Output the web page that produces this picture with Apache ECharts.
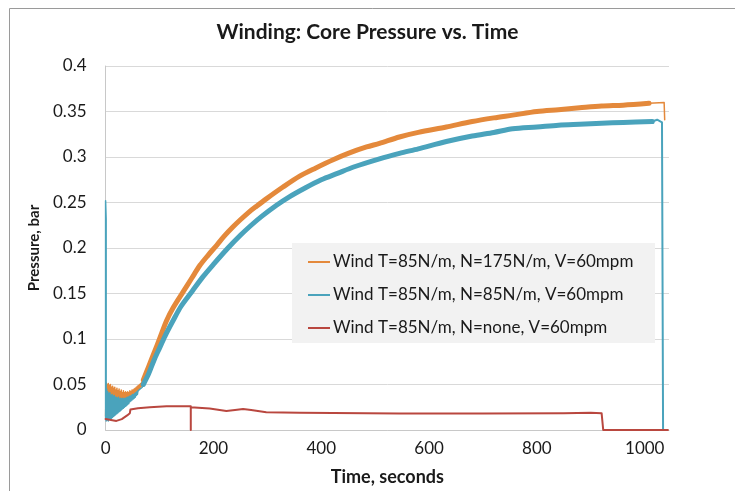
<!DOCTYPE html>
<html>
<head>
<meta charset="utf-8">
<script src="https://cdn.jsdelivr.net/npm/echarts@6/dist/echarts.min.js"></script>
<style>
html,body{margin:0;padding:0;background:#fff;}
#c{width:735px;height:491px;}
</style>
</head>
<body>
<div id="c"></div>
<script>
// ---- data (time in seconds, pressure in bar) ----
var seriesNames = [
  'Wind T=85N/m, N=175N/m, V=60mpm',
  'Wind T=85N/m, N=85N/m, V=60mpm',
  'Wind T=85N/m, N=none, V=60mpm'
];
var xTicks = [0, 200, 400, 600, 800, 1000];
var yTicks = [0, 0.05, 0.1, 0.15, 0.2, 0.25, 0.3, 0.35, 0.4];

// N=175: noisy start-up band (0-70 s)
var orangeHeadT = [0,1,2,3,4,5,6,7,8,9,10,11,12,13,14,15,16,17,18,19,20,21,22,23,24,25,26,27,28,29,30,31,32,33,34,35,36,37,38,39,40,41,42,43,44,45,46,47,48,49,50,51,52,53,54,55,56,57,58,59,60,61,62,63,64,65,66,67,68,69,70];
var orangeHeadP = [0.015,0.052,0.014,0.05,0.015,0.051,0.014,0.049,0.015,0.05,0.015,0.047,0.016,0.048,0.017,0.046,0.017,0.047,0.018,0.044,0.019,0.046,0.02,0.043,0.021,0.045,0.022,0.042,0.023,0.044,0.024,0.041,0.025,0.043,0.026,0.041,0.027,0.042,0.028,0.041,0.029,0.042,0.03,0.041,0.031,0.043,0.033,0.042,0.034,0.044,0.035,0.044,0.037,0.045,0.038,0.046,0.04,0.047,0.041,0.048,0.043,0.049,0.045,0.05,0.046,0.051,0.048,0.052,0.05,0.053,0.055];
// N=175: main rise
var orangeT = [70,80,90,100,113,125,144,160,175,190,206,220,236,250,267,280,298,329,360,390,422,450,484,508,545,580,632,680,720,755,800,840,879,920,960,1008];
var orangeP = [0.055,0.07,0.085,0.1,0.12,0.134,0.152,0.167,0.181,0.192,0.203,0.213,0.223,0.231,0.24,0.246,0.254,0.267,0.279,0.288,0.297,0.304,0.311,0.315,0.322,0.327,0.333,0.339,0.343,0.346,0.35,0.352,0.354,0.356,0.357,0.359];
// N=175: end of run
var orangeTailT = [1008,1010,1036,1037];
var orangeTailP = [0.359,0.36,0.36,0.341];

// N=85: start spike and noisy band (0-70 s)
var blueHeadT = [0,0,1,1,2,3,4,5,6,7,8,9,10,11,12,13,14,15,16,17,18,19,20,21,22,23,24,25,26,27,28,29,30,31,32,33,34,35,36,37,38,39,40,41,42,43,44,45,46,47,48,49,50,51,52,53,54,55,56,57,58,59,60,61,62,63,64,65,66,67,68,69,70];
var blueHeadP = [0.012,0.252,0.232,0.01,0.045,0.011,0.042,0.01,0.04,0.012,0.041,0.012,0.038,0.013,0.039,0.014,0.037,0.015,0.038,0.016,0.036,0.017,0.036,0.018,0.035,0.019,0.036,0.02,0.034,0.021,0.035,0.022,0.034,0.023,0.035,0.024,0.034,0.025,0.035,0.026,0.035,0.027,0.036,0.028,0.036,0.029,0.037,0.031,0.037,0.032,0.038,0.033,0.039,0.034,0.039,0.035,0.04,0.036,0.041,0.038,0.042,0.039,0.043,0.041,0.044,0.042,0.045,0.044,0.046,0.046,0.047,0.048,0.05];
// N=85: main rise
var blueT = [70,80,90,100,110,125,140,160,180,200,227,250,270,290,317,340,370,400,430,460,508,545,580,632,680,720,755,800,840,879,920,960,1014];
var blueP = [0.05,0.062,0.077,0.09,0.103,0.12,0.136,0.152,0.168,0.182,0.2,0.214,0.225,0.235,0.247,0.256,0.266,0.275,0.282,0.289,0.298,0.304,0.309,0.317,0.323,0.327,0.331,0.333,0.335,0.336,0.337,0.338,0.339];
// N=85: end of run
var blueTailT = [1014,1023,1032,1034];
var blueTailP = [0.339,0.341,0.338,0];

// N=none
var redT = [0,10,20,30,40,45,46,60,82,113,140,158,158,158,193,224,240,255,270,298,360,545,700,850,900,920,923,923,1043];
var redP = [0.012,0.011,0.01,0.012,0.016,0.0185,0.0225,0.024,0.025,0.026,0.026,0.026,0,0.025,0.0235,0.021,0.022,0.023,0.022,0.0195,0.019,0.018,0.018,0.0185,0.019,0.0185,0.018,0,0];

function pairs(t, p) { var out = []; for (var i = 0; i < t.length; i++) out.push([t[i], p[i]]); return out; }

var FONT = 'Lato';
var ORANGE = '#E4893B', BLUE = '#4AA3BC', RED = '#B9473F';
function line(name, t, p, color, width, z, smooth) {
  return {name: name, type: 'line', data: pairs(t, p), showSymbol: false, symbol: 'none', silent: true,
    smooth: smooth || false,
    lineStyle: {width: width, color: color, join: 'round', cap: 'round'}, itemStyle: {color: color}, z: z};
}

var chart = echarts.init(document.getElementById('c'), null, {renderer: 'canvas'});
chart.setOption({
  animation: false,
  backgroundColor: '#ffffff',
  title: {
    text: 'Winding: Core Pressure vs. Time',
    left: 'center', top: 17,
    textStyle: {fontFamily: FONT, fontSize: 21, fontWeight: 'bold', color: '#1a1a1a'}
  },
  graphic: [
    {type: 'rect', z: -10, shape: {x: 9.5, y: 8.5, width: 800, height: 600}, style: {fill: 'none', stroke: '#9a9a9a', lineWidth: 1}},
    {type: 'rect', z: 5, shape: {x: 292, y: 243, width: 363, height: 100}, style: {fill: '#f2f2f2'}}
  ],
  legend: {
    orient: 'vertical', left: 308, top: 253, z: 10,
    itemWidth: 22, itemHeight: 2, itemGap: 15, icon: 'rect',
    padding: 0,
    textStyle: {fontFamily: FONT, fontSize: 17, lineHeight: 18, color: '#1a1a1a', padding: [0, 0, 0, -2]},
    data: seriesNames
  },
  grid: {left: 105.6, right: 66, top: 66, bottom: 58, containLabel: false},
  xAxis: {
    type: 'value', min: 0, max: 1045, interval: 200,
    name: 'Time, seconds', nameLocation: 'middle', nameGap: 38,
    nameTextStyle: {fontFamily: FONT, fontSize: 18, fontWeight: 'bold', color: '#1a1a1a'},
    axisLine: {show: true, lineStyle: {color: '#c8c8c8'}},
    axisTick: {show: false},
    splitLine: {show: false},
    axisLabel: {fontFamily: FONT, fontSize: 17, color: '#1a1a1a', margin: 10, showMaxLabel: false,
      formatter: function (v) { return xTicks.indexOf(v) >= 0 ? String(v) : ''; }}
  },
  yAxis: {
    type: 'value', min: 0, max: 0.4, interval: 0.05,
    name: 'Pressure, bar', nameLocation: 'middle', nameGap: 55,
    nameTextStyle: {fontFamily: FONT, fontSize: 15, fontWeight: 'bold', color: '#1a1a1a'},
    axisLine: {show: true, lineStyle: {color: '#c8c8c8'}},
    axisTick: {show: false},
    splitLine: {show: true, lineStyle: {color: '#d9d9d9'}},
    axisLabel: {fontFamily: FONT, fontSize: 17, color: '#1a1a1a', margin: 19,
      formatter: function (v) { var r = Math.round(v * 100) / 100; return yTicks.indexOf(r) >= 0 ? String(r) : ''; }}
  },
  series: [
    line(seriesNames[0], orangeT, orangeP, ORANGE, 5, 2, 0.3),
    line('', orangeHeadT, orangeHeadP, ORANGE, 1.5, 2),
    line('', orangeTailT, orangeTailP, ORANGE, 1.5, 2),
    line(seriesNames[1], blueT, blueP, BLUE, 5, 3, 0.3),
    line('', blueHeadT, blueHeadP, BLUE, 1.5, 3),
    line('', blueTailT, blueTailP, BLUE, 2, 3),
    line(seriesNames[2], redT, redP, RED, 2, 4)
  ]
});
</script>
</body>
</html>
